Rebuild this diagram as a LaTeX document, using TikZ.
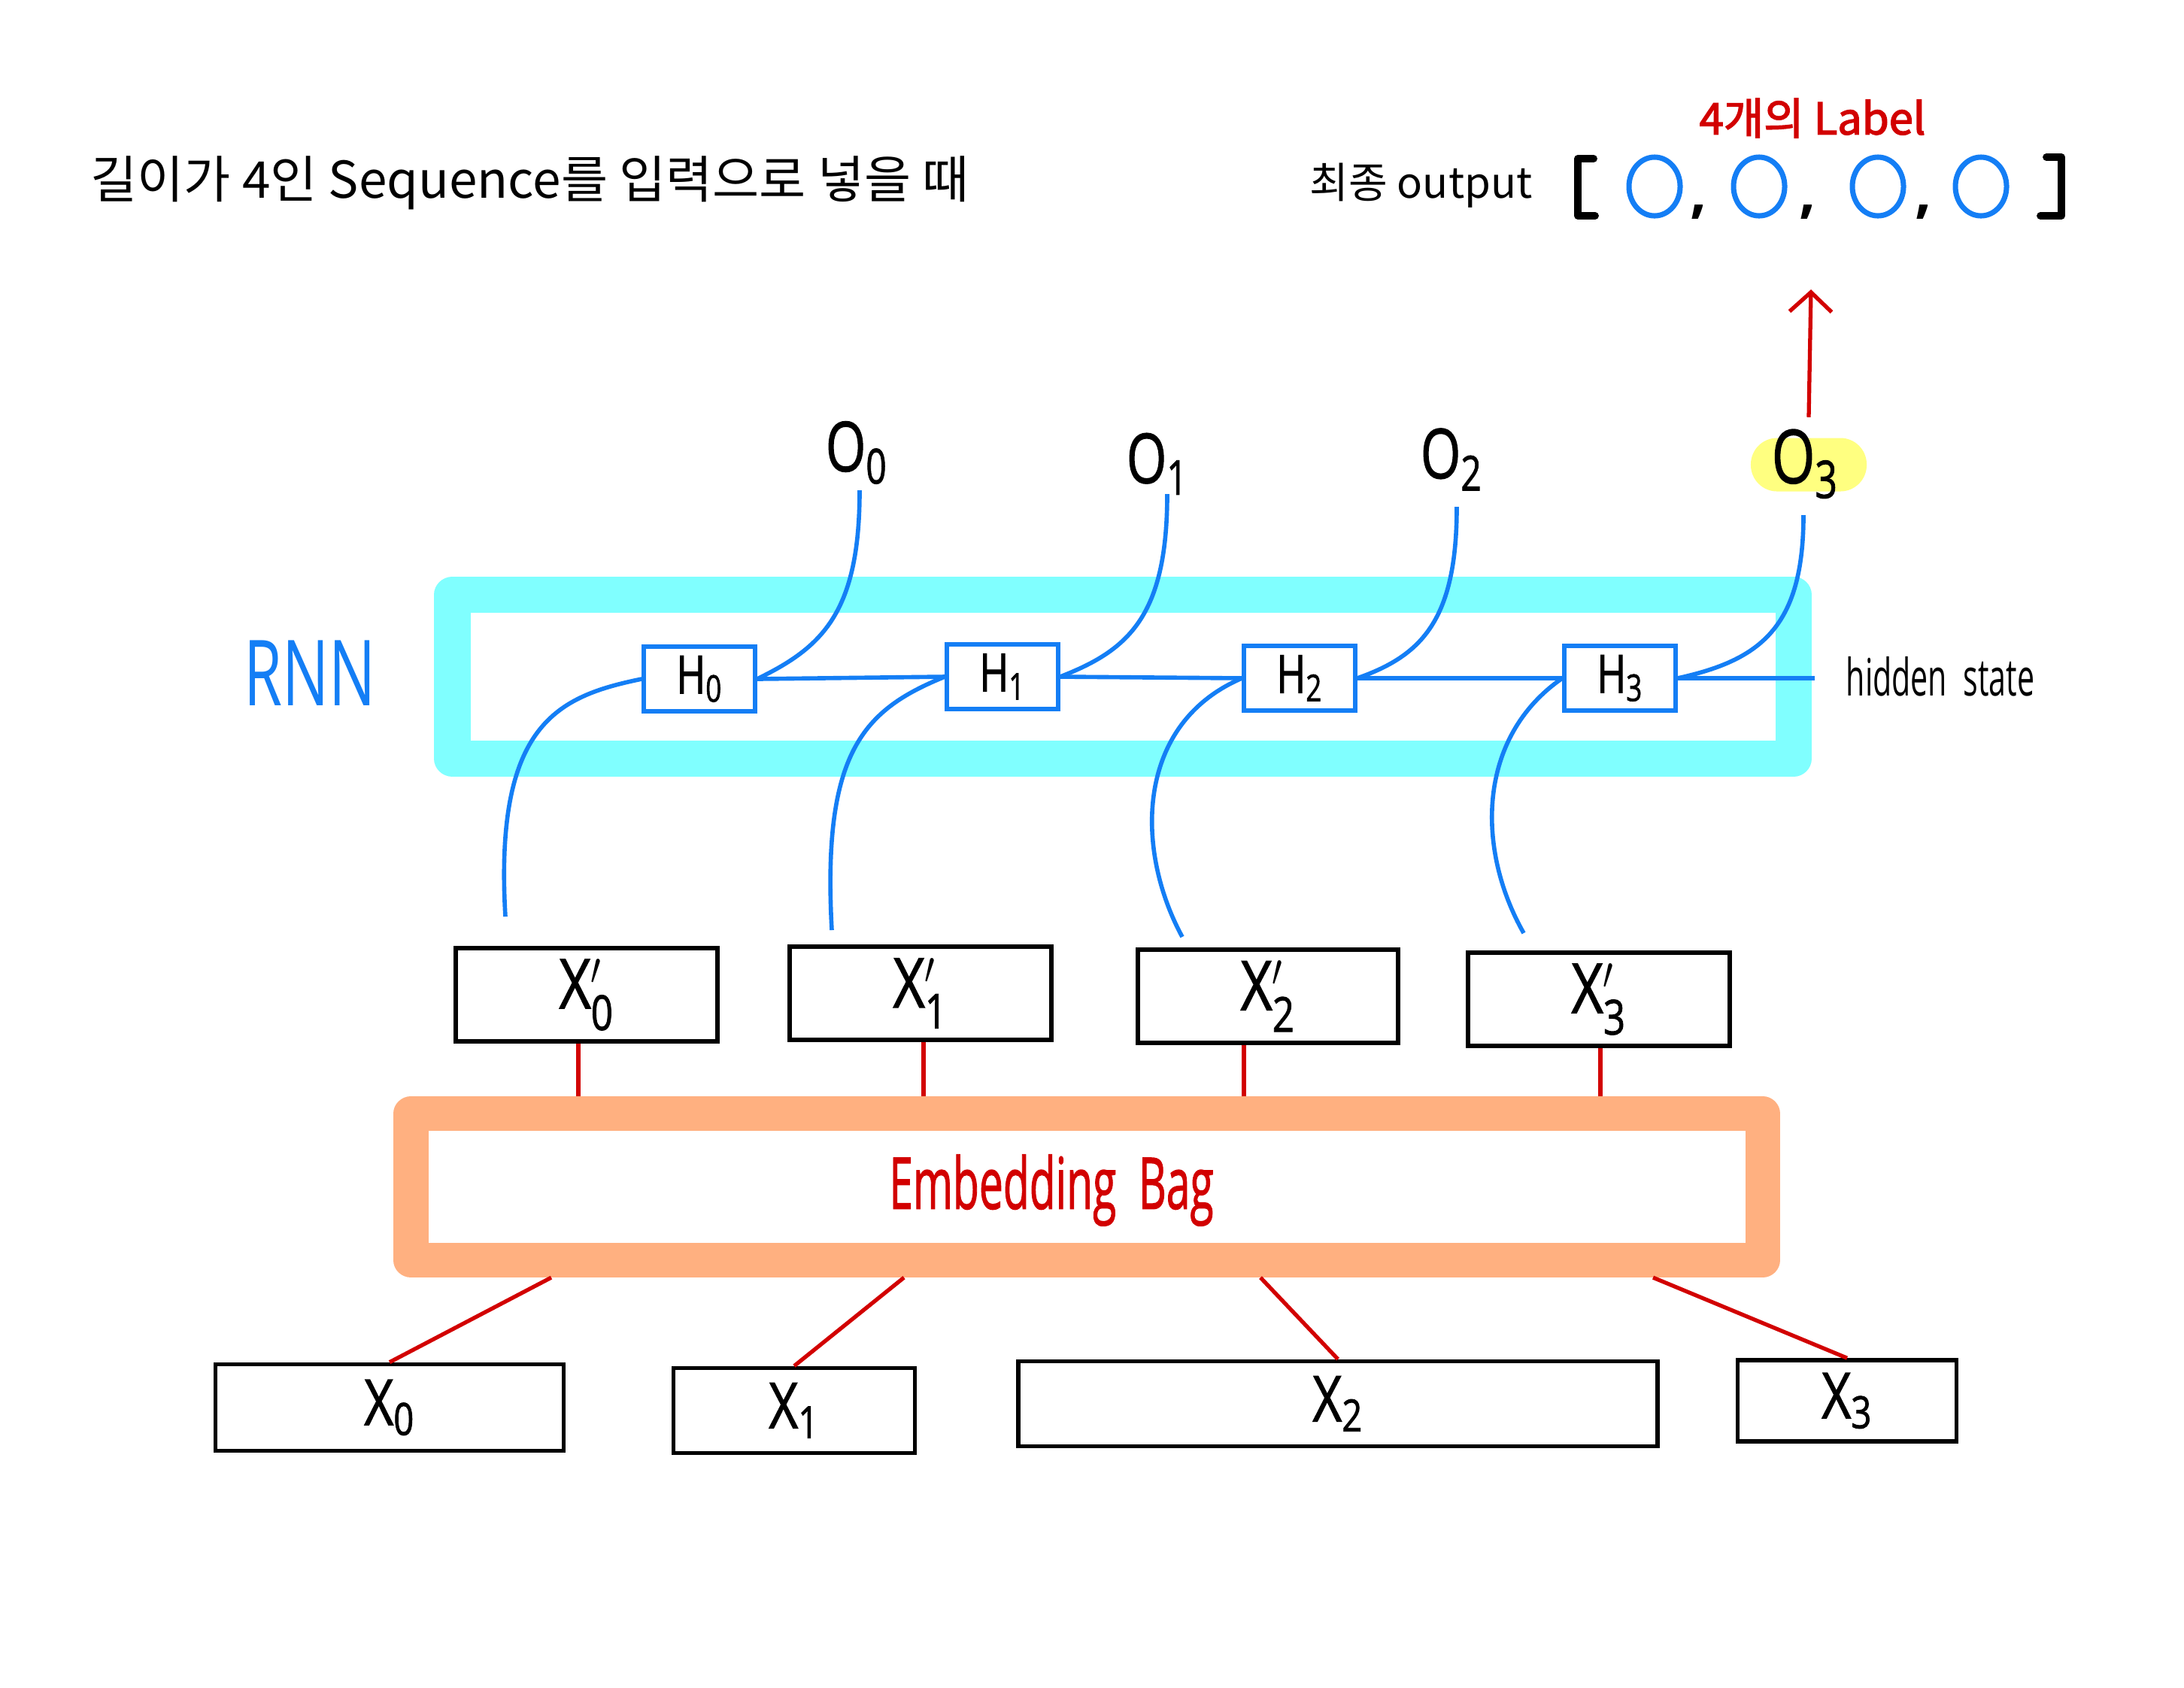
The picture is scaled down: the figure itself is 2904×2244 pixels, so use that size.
\documentclass[tikz,border=0pt]{standalone}
\usepackage{fontspec}
\usepackage{amsmath}
\setmainfont{Open Sans}
\newfontfamily\kr{Noto Sans CJK KR}
\newfontfamily\krb[FakeBold=2.5]{Noto Sans CJK KR}
\newfontfamily\hand[FakeBold=1.5]{Open Sans}
\newfontfamily\thin{Open Sans}
\usetikzlibrary{arrows.meta,shapes.geometric}
\definecolor{myblue}{RGB}{20,126,245}
\definecolor{myred}{RGB}{210,0,0}
\definecolor{rnncyan}{RGB}{128,255,255}
\definecolor{bagpeach}{RGB}{255,176,128}
\definecolor{hlyellow}{RGB}{255,255,128}
\newcommand\hlab[1]{\scalebox{0.75}[1]{\hand\fontsize{20}{24}\selectfont H\textsubscript{#1}}}
\newcommand\olab[2]{\scalebox{0.75}[1]{\hand\fontsize{#2}{#2}\selectfont O\textsubscript{#1}}}
\newcommand\xplab[1]{\scalebox{0.8}[1]{\hand\fontsize{26}{30}\selectfont X$_{\text{#1}}^{\prime}$}}
\newcommand\xlab[1]{\scalebox{0.8}[1]{\hand\fontsize{24}{28}\selectfont X\textsubscript{#1}}}
\tikzset{
  hbox/.style={draw=myblue, line width=1.5pt, fill=white, inner sep=0pt, minimum width=1.48cm, minimum height=0.86cm},
  xpbox/.style={draw=black, line width=1.6pt, fill=white, inner sep=0pt, minimum width=3.48cm, minimum height=1.24cm},
  xbox/.style={draw=black, line width=1.6pt, fill=white, inner sep=0pt},
  blueline/.style={draw=myblue, line width=1.6pt},
  redline/.style={draw=myred, line width=1.5pt},
  outcirc/.style={ellipse, draw=myblue, line width=2pt, minimum width=0.68cm, minimum height=0.78cm, inner sep=0pt},
  comma/.style={inner sep=0pt, font=\fontsize{22}{22}\selectfont\bfseries},
  bracket/.style={draw=black, line width=2.8pt, line cap=round, line join=round},
  plain/.style={inner sep=0pt}
}
\begin{document}
\begin{tikzpicture}[x=0.01cm,y=-0.01cm]
\useasboundingbox (0,0) rectangle (2904,2244);
\fill[white] (0,0) rectangle (2904,2244);

% title and output
\node[plain, anchor=west] (title) at (120,243) {\kr\fontsize{19.2}{23}\selectfont 길이가 4인 Sequence를 입력으로 넣을 때};
\node[plain, anchor=west] (final) at (1741,247) {\kr\fontsize{16}{20}\selectfont 최종 output};
\node[plain, text=myred] (labels) at (2410,157) {\krb\fontsize{16.5}{20}\selectfont 4개의 Label};
\draw[bracket] (2119,211) -- (2098,211) -- (2098,287) -- (2121,287);
\draw[bracket] (2721,209) -- (2741,209) -- (2741,287) -- (2713,287);
\node[outcirc] (c0) at (2200,248) {};
\node[outcirc] (c1) at (2339,248) {};
\node[outcirc] (c2) at (2497,248) {};
\node[outcirc] (c3) at (2634,248) {};
\node[comma] (k0) at (2259,282) {,};
\node[comma] (k1) at (2404,282) {,};
\node[comma] (k2) at (2558,282) {,};

% frames
\node[draw=rnncyan, line width=0.48cm, line join=round, minimum width=17.82cm, minimum height=2.18cm, inner sep=0pt, fill=white] (rnn) at (1493,900) {};
\node[draw=bagpeach, line width=0.46cm, line join=round, minimum width=17.96cm, minimum height=1.95cm, inner sep=0pt, fill=white] (bag) at (1445,1578.5) {};
\node[plain, text=myblue] (rnnlab) at (412,895) {\scalebox{0.68}[1]{\thin\fontsize{34.5}{40}\selectfont RNN}};
\node[plain, text=myred] (baglab) at (1398,1583) {\scalebox{0.6}[1]{\hand\fontsize{27}{32}\selectfont Embedding\ \ Bag}};

% O labels
\node[plain] (o0) at (1139,602) {\olab{0}{26}};
\node[plain] (o1) at (1539,617) {\olab{1}{26}};
\node[plain] (o2) at (1930,611) {\olab{2}{26}};
\node[fill=hlyellow, rounded corners=0.35cm, minimum width=1.54cm, minimum height=0.71cm, inner sep=0pt] (o3) at (2405,618) {};
\node[plain] (o3t) at (2400,617) {\olab{3}{28}};

% H boxes
\node[hbox] (h0) at (930,903) {\hlab{0}};
\node[hbox] (h1) at (1333,900) {\hlab{1}};
\node[hbox] (h2) at (1728,902) {\hlab{2}};
\node[hbox] (h3) at (2154,902) {\hlab{3}};
\coordinate (hend) at (2413,902);
\node[plain, anchor=west] (hs) at (2454,900) {\scalebox{0.6}[1]{\thin\fontsize{19.5}{24}\selectfont hidden\ \ state}};

% X' boxes
\node[xpbox] (xp0) at (780,1323) {\xplab{0}};
\node[xpbox] (xp1) at (1224,1321) {\xplab{1}};
\node[xpbox, minimum width=3.46cm] (xp2) at (1686,1325) {\xplab{2}};
\node[xpbox] (xp3) at (2126,1329) {\xplab{3}};

% X boxes
\node[xbox, minimum width=4.63cm, minimum height=1.15cm] (x0) at (518,1872) {\xlab{0}};
\node[xbox, minimum width=3.21cm, minimum height=1.13cm] (x1) at (1056,1876) {\xlab{1}};
\node[xbox, minimum width=8.50cm, minimum height=1.13cm] (x2) at (1779,1867) {\xlab{2}};
\node[xbox, minimum width=2.91cm, minimum height=1.08cm] (x3) at (2456,1863) {\xlab{3}};

% hidden state chain
\draw[blueline] (h0.east) -- (h1.west);
\draw[blueline] (h1.east) -- (h2.west);
\draw[blueline] (h2.east) -- (h3.west);
\draw[blueline] (h3.east) -- (hend);

% output curves
\coordinate (out0) at (1143,652);
\coordinate (out1) at (1552,657);
\coordinate (out2) at (1937,674);
\coordinate (out3) at (2398,685);
\draw[blueline] (out0) .. controls (1143,815) and (1093,861) .. (h0.east);
\draw[blueline] (out1) .. controls (1552,820) and (1500,865) .. (h1.east);
\draw[blueline] (out2) .. controls (1937,825) and (1890,872) .. (h2.east);
\draw[blueline] (out3) .. controls (2398,835) and (2340,878) .. (h3.east);

% input curves
\coordinate (in0) at (672,1219);
\coordinate (in1) at (1106,1237);
\coordinate (in2) at (1572,1246);
\coordinate (in3) at (2026,1241);
\draw[blueline] (in0) .. controls (657,963) and (741,926) .. (h0.west);
\draw[blueline] (in1) .. controls (1093,1000) and (1148,944) .. (h1.west);
\draw[blueline] (in2) .. controls (1509,1130) and (1509,963) .. (h2.west);
\draw[blueline] (in3) .. controls (1963,1130) and (1963,981) .. (h3.west);

% X' to bag
\coordinate (t0) at ([xshift=-0.11cm]xp0.south);
\coordinate (t1) at ([xshift=0.04cm]xp1.south);
\coordinate (t2) at ([xshift=-0.32cm]xp2.south);
\coordinate (t3) at ([xshift=0.02cm]xp3.south);
\draw[redline] (t0) -- (t0 |- bag.north);
\draw[redline] (t1) -- (t1 |- bag.north);
\draw[redline] (t2) -- (t2 |- bag.north);
\draw[redline] (t3) -- (t3 |- bag.north);

% bag to X
\coordinate (b0) at (733,0);
\coordinate (b1) at (1202,0);
\coordinate (b2) at (1676,0);
\coordinate (b3) at (2198,0);
\draw[redline] (b0 |- bag.south) -- (x0.north);
\draw[redline] (b1 |- bag.south) -- (x1.north);
\draw[redline] (b2 |- bag.south) -- (x2.north);
\draw[redline] (b3 |- bag.south) -- (x3.north);

% final arrow
\coordinate (arrtop) at (2408,385);
\draw[redline, -{Straight Barb[length=0.26cm,width=0.56cm]}] ([yshift=0.27cm]o3.north) -- (arrtop);
\end{tikzpicture}
\end{document}
